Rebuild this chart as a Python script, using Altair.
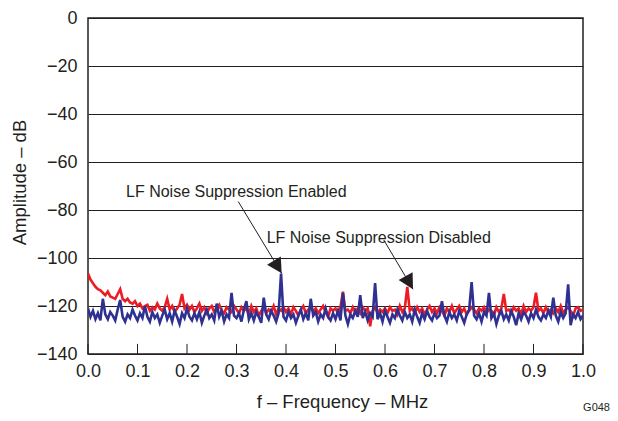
import altair as alt
import pandas as pd

FONT = "Liberation Sans, Arial, Helvetica, sans-serif"
INK = "#231f20"
RED = "#ed1c24"
BLUE = "#2e3192"

# Spectrum, 0.005 MHz steps from 0.0 to 1.0 MHz
disabled_db = [
    -106.5, -109, -110.5, -112, -113, -113.5, -114.5, -115.5, -114, -116,
    -116.5, -117, -115, -113, -117, -118, -117, -118.5, -119, -118,
    -120, -119, -121, -120, -119.5, -122, -120.5, -121.5, -119, -121,
    -122, -120.5, -117, -121.5, -120, -122.5, -121, -119.5, -115, -121,
    -119.5, -121.5, -120, -122.5, -121, -119, -122, -120.5, -123, -121,
    -120, -122.5, -121, -119.5, -122, -123, -120.5, -121.5, -122.5, -120,
    -121.5, -123, -120.5, -122, -121, -123.5, -120, -122.5, -121, -124,
    -122, -120.5, -123, -121.5, -122.5, -120, -123.5, -121, -122, -120.5,
    -122.5, -121, -123.5, -120.5, -122, -124, -121.5, -120, -123, -121.5,
    -120.5, -122.5, -121, -123, -121.5, -120, -122.5, -124.5, -121, -122,
    -121, -123, -120.5, -114, -122, -121.5, -123, -120.5, -122.5, -121,
    -123, -120.5, -122, -121, -128.5, -122, -120.5, -123, -121.5, -122.5,
    -121, -123, -120.5, -122, -121.5, -123.5, -120, -122.5, -121, -112,
    -122, -121, -123, -120.5, -122.5, -121, -123.5, -121.5, -120, -122.5,
    -121, -123, -120.5, -122, -124, -121, -122.5, -120, -123, -121.5,
    -120, -122.5, -121, -123.5, -122, -120.5, -121.5, -123, -121, -122,
    -120.5, -123, -121.5, -122, -124, -120.5, -122.5, -121, -115, -122,
    -121.5, -123, -120.5, -122, -121, -123.5, -120, -122.5, -121, -122,
    -120.5, -114.5, -122, -121, -123, -120.5, -122.5, -121.5, -123, -121,
    -122.5, -120, -123, -121.5, -120.5, -122, -124, -121, -120.5, -122,
    -121.5,
]
enabled_db = [
    -121, -124.5, -122, -125.5, -123, -126, -117, -123.5, -125.5, -122.5,
    -124, -126, -121.5, -117.5, -124.5, -126.5, -123.5, -125, -121.5, -124,
    -126, -123, -125, -120, -124.5, -126.5, -122.5, -125, -123.5, -127,
    -124, -121.5, -125.5, -123, -126.5, -122, -124.5, -127.5, -123, -125,
    -121, -124.5, -126, -123, -125.5, -122.5, -127, -124, -121.5, -125,
    -123.5, -126, -119, -124.5, -122, -126.5, -123.5, -125, -114.5, -124,
    -125, -123, -126.5, -121.5, -118, -125.5, -123, -126, -122.5, -124.5,
    -127, -116.5, -123.5, -125.5, -122, -124, -126.5, -123, -106.5, -124.5,
    -126, -122.5, -125, -123.5, -127, -124, -121.5, -125.5, -123, -126,
    -117, -124, -122.5, -126.5, -123.5, -125, -121, -124.5, -126, -123,
    -125.5, -122, -126, -114.5, -124, -127.5, -123.5, -125, -122, -124.5,
    -115.5, -125, -122.5, -126, -123, -124.5, -110.5, -125.5, -123, -126.5,
    -122, -124.5, -127, -123.5, -125, -121.5, -124, -126, -122.5, -125,
    -123.5, -126.5, -121.5, -124.5, -127, -123, -125.5, -122, -124.5, -126,
    -123, -125, -124, -118, -124, -126.5, -122.5, -125, -123.5, -126,
    -122, -124.5, -127, -123.5, -121.5, -110, -124, -125.5, -123, -126.5,
    -122.5, -124, -114.5, -125, -123, -127.5, -124, -122, -125.5, -123.5,
    -126, -122, -124.5, -128, -123, -125.5, -122.5, -124, -126.5, -123,
    -125, -121.5, -124.5, -126, -123.5, -125, -122, -124.5, -116.5, -124,
    -126.5, -122.5, -125, -123, -111, -128, -123.5, -125, -122.5, -125.5,
    -124,
]
freq_mhz = [round(i * 0.005, 3) for i in range(len(enabled_db))]

x_ticks = [0.0, 0.1, 0.2, 0.3, 0.4, 0.5, 0.6, 0.7, 0.8, 0.9, 1.0]
y_ticks = [-140, -120, -100, -80, -60, -40, -20, 0]

labels = ["LF Noise Suppression Enabled", "LF Noise Suppression Disabled"]
label_x = [0.0768, 0.361]
label_y = [-74.5, -93.6]
arrow_x = [0.3036, 0.5976]
arrow_y = [-76.5, -92.5]
tip_x = [0.3913, 0.6566]
tip_y = [-106.4, -113.0]
tip_angle = [148.8, 150.5]

xs = alt.Scale(domain=[0, 1], nice=False)
ys = alt.Scale(domain=[-140, 0], nice=False)

df_red = pd.DataFrame({"f": freq_mhz, "db": disabled_db})
df_blue = pd.DataFrame({"f": freq_mhz, "db": enabled_db})
df_ticks = pd.DataFrame({"f": x_ticks, "db": [-140] * len(x_ticks), "y1": [-135.8] * len(x_ticks)})
df_lab = pd.DataFrame({"t": labels, "f": label_x, "db": label_y})
df_arr = pd.DataFrame({"f": arrow_x, "db": arrow_y, "f2": tip_x, "db2": tip_y, "a": tip_angle})

X_TITLE = "f – Frequency – MHz"
Y_TITLE = "Amplitude – dB"

x_axis = alt.Axis(
    values=x_ticks, format=".1f", grid=False, ticks=False, tickSize=0, domain=False,
    labelFontSize=18, labelPadding=8, labelFlush=False, labelOverlap=False,
    title=X_TITLE, titleFontSize=18.5, titleFontWeight="normal", titleX=254, titleY=53,
    titleBaseline="alphabetic", titleAlign="center",
)
y_axis = alt.Axis(
    values=y_ticks, grid=True, gridColor=INK, gridWidth=1, ticks=False, tickSize=0,
    domain=False, labelFontSize=18, labelPadding=11, labelFlush=False, labelOverlap=False,
    title=Y_TITLE, titleFontSize=18.5, titleFontWeight="normal", titleX=-69, titleY=164,
    titleAngle=270, titleAlign="center", titleBaseline="middle",
)


def X(field):
    return alt.X(field, scale=xs, axis=x_axis, title=X_TITLE)


def Y(field):
    return alt.Y(field, scale=ys, axis=y_axis, title=Y_TITLE)


red = alt.Chart(df_red).mark_line(color=RED, strokeWidth=2.6, clip=True).encode(
    x=X("f:Q"), y=Y("db:Q"),
)
blue = alt.Chart(df_blue).mark_line(color=BLUE, strokeWidth=2.6, clip=True).encode(
    x=X("f:Q"), y=Y("db:Q"),
)
ticks = alt.Chart(df_ticks).mark_rule(color=INK, strokeWidth=1).encode(
    x=X("f:Q"), y=Y("db:Q"), y2="y1:Q",
)
shafts = alt.Chart(df_arr).mark_rule(color=INK, strokeWidth=1).encode(
    x=X("f:Q"), y=Y("db:Q"), x2="f2:Q", y2="db2:Q",
)
heads = alt.Chart(df_arr).mark_point(
    shape="M0,0L1.6,3L-1.6,3Z", filled=True, size=100, color=INK, opacity=1, strokeWidth=0
).encode(
    x=X("f2:Q"), y=Y("db2:Q"),
    angle=alt.Angle("a:Q", scale=None),
)
texts = alt.Chart(df_lab).mark_text(
    align="left", baseline="alphabetic", fontSize=16, font=FONT, color=INK
).encode(
    x=X("f:Q"), y=Y("db:Q"), text="t:N",
)
code = alt.Chart(pd.DataFrame({"t": ["G048"]})).mark_text(
    align="right", baseline="alphabetic", fontSize=11, font=FONT, color=INK
).encode(x=alt.value(522), y=alt.value(393), text="t:N")

chart = (
    alt.layer(red, blue, ticks, shafts, heads, texts, code)
    .properties(
        width=495, height=336,
        autosize=alt.AutoSizeParams(type="none"),
        padding={"left": 80, "top": 10, "right": 27, "bottom": 59},
        background="white",
    )
    .configure_view(stroke=INK, strokeWidth=1.5)
    .configure_axis(labelFont=FONT, titleFont=FONT, labelColor=INK, titleColor=INK)
)

chart.save("out.html", embed_options={"renderer": "svg", "actions": False})
